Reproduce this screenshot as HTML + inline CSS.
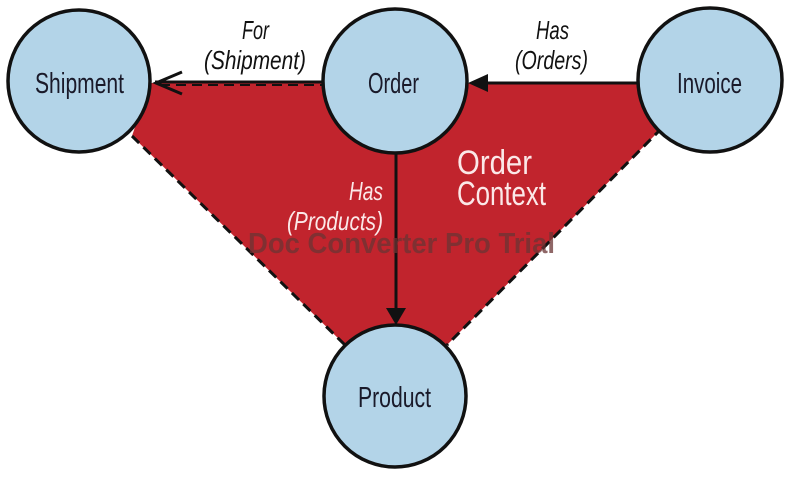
<!DOCTYPE html>
<html><head><meta charset="utf-8"><style>
html,body{margin:0;padding:0;background:#fff;width:802px;height:490px;overflow:hidden}
text{font-family:"Liberation Sans",sans-serif}
</style></head><body>
<svg width="802" height="490" viewBox="0 0 802 490" xmlns="http://www.w3.org/2000/svg">
<polygon points="150,83 640,83 662,128 447,345 345,345 132,136" fill="#c1242d"/>
<g stroke="#111" stroke-width="3" stroke-dasharray="10,6" fill="none">
<line x1="132" y1="136" x2="345" y2="345"/>
<line x1="662" y1="128" x2="447" y2="345"/>
<line x1="160" y1="85" x2="322" y2="85" stroke-width="2"/>
</g>
<g stroke="#111" stroke-width="3" fill="none">
<line x1="155" y1="82" x2="323" y2="82"/>
<polyline points="182,72 156,83 182,94"/>
<line x1="476" y1="83" x2="638" y2="83"/>
<line x1="396" y1="153" x2="396" y2="310"/>
</g>
<polygon points="468,83 488,74 488,92" fill="#111"/>
<polygon points="396,325 386,308 406,308" fill="#111"/>
<g fill="#b3d4e8" stroke="#111" stroke-width="3.5">
<circle cx="79" cy="81" r="71"/>
<circle cx="395" cy="81" r="72"/>
<circle cx="710" cy="80" r="72"/>
<circle cx="395" cy="396" r="71"/>
</g>
<g fill="#1a1a2a" font-size="29">
<text x="35" y="93" textLength="89" lengthAdjust="spacingAndGlyphs">Shipment</text>
<text x="368" y="93" textLength="51" lengthAdjust="spacingAndGlyphs">Order</text>
<text x="677" y="93" textLength="65" lengthAdjust="spacingAndGlyphs">Invoice</text>
<text x="358" y="407" textLength="73" lengthAdjust="spacingAndGlyphs">Product</text>
</g>
<g fill="#111" font-size="26" font-style="italic">
<text x="242" y="39" textLength="27" lengthAdjust="spacingAndGlyphs">For</text>
<text x="204" y="69" textLength="102" lengthAdjust="spacingAndGlyphs">(Shipment)</text>
<text x="536" y="39" textLength="33" lengthAdjust="spacingAndGlyphs">Has</text>
<text x="515" y="69" textLength="73" lengthAdjust="spacingAndGlyphs">(Orders)</text>
</g>
<g fill="#fbe8e8" font-size="26" font-style="italic">
<text x="349" y="200" textLength="34" lengthAdjust="spacingAndGlyphs">Has</text>
<text x="287" y="230" textLength="96" lengthAdjust="spacingAndGlyphs">(Products)</text>
</g>
<g fill="#fbe8e8" font-size="34">
<text x="457" y="174" textLength="75" lengthAdjust="spacingAndGlyphs">Order</text>
<text x="457" y="205" textLength="89" lengthAdjust="spacingAndGlyphs">Context</text>
</g>
<text x="248" y="253" font-size="29" font-weight="bold" fill="#6a3434" fill-opacity="0.75" textLength="307" lengthAdjust="spacingAndGlyphs">Doc Converter Pro Trial</text>
</svg>
</body></html>
